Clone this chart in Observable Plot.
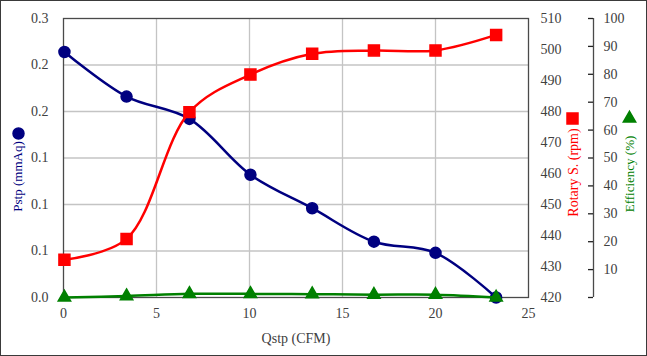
<!DOCTYPE html>
<html>
<head>
<meta charset="utf-8">
<script src="https://cdn.jsdelivr.net/npm/d3@7"></script>
<script src="https://cdn.jsdelivr.net/npm/@observablehq/plot@0.6"></script>
<style>
  html, body { margin: 0; padding: 0; background: #fff; }
  #chart { width: 645px; height: 354px; border: 1px solid #3a3a3a; }
  #chart svg { display: block; }
  #chart svg text { font-family: "Liberation Serif", "Times New Roman", serif !important; }
</style>
</head>
<body>
<div id="chart"></div>
<script>
// ---- data ----
const qstp = [0.05, 3.39, 6.77, 10.05, 13.37, 16.69, 20.0, 23.26];      // Qstp (CFM)
const pstp = [0.264, 0.216, 0.192, 0.132, 0.096, 0.060, 0.048, 0.0];     // Pstp (mmAq)
const rpm  = [432.2, 438.9, 479.8, 491.9, 498.6, 499.7, 499.7, 504.7];   // Rotary S. (rpm)
const eff  = [0.0, 0.5, 1.3, 1.3, 1.2, 1.0, 1.0, 0.0];                   // Efficiency (%)

const xTicks = [0, 5, 10, 15, 20, 25];
const gridY = [0.05, 0.1, 0.15, 0.2, 0.25];
const leftLabelTicks = [0, 0.05, 0.1, 0.15, 0.2, 0.25, 0.3];
const leftLabelTexts = ["0.0", "0.1", "0.1", "0.1", "0.2", "0.2", "0.3"];
const rpmTicks = [420, 430, 440, 450, 460, 470, 480, 490, 500, 510];
const effTicks = [0, 10, 20, 30, 40, 50, 60, 70, 80, 90, 100];
const effLabelTicks = [10, 20, 30, 40, 50, 60, 70, 80, 90, 100];

// ---- secondary axes mapped onto the primary y domain ----
const yMax = 0.3;
const rpmMin = 420, rpmMax = 510;
const effMax = 100;
const rpmToY = r => (r - rpmMin) / (rpmMax - rpmMin) * yMax;
const effToY = e => e / effMax * yMax;

const rows = qstp.map((q, i) => ({q, p: pstp[i], r: rpmToY(rpm[i]), e: effToY(eff[i])}));

const navy = "#000080", red = "#ff0000", green = "#008000";
const txt = "#404040";
const serif = "Liberation Serif";

const chart = Plot.plot({
  width: 645, height: 354,
  marginLeft: 62, marginRight: 118, marginTop: 17, marginBottom: 58,
  style: {fontFamily: serif, fontSize: "14px", color: txt, background: "#fff", overflow: "visible"},
  x: {domain: [0, 25], axis: null},
  y: {domain: [0, yMax], axis: null},
  marks: [
    // grid
    Plot.ruleX(xTicks.slice(1, -1), {stroke: "#c4c4c4", strokeWidth: 1.3}),
    Plot.ruleY(gridY, {stroke: "#c4c4c4", strokeWidth: 1.3}),
    Plot.frame({stroke: "#4a4a4a", strokeWidth: 1.3}),
    // x tick labels
    Plot.text(xTicks, {x: d => d, y: 0, dy: 16, text: d => String(d), fill: txt, fontFamily: serif, fontSize: 14, lineAnchor: "middle"}),
    Plot.text(["Qstp (CFM)"], {frameAnchor: "bottom", dy: 41, text: d => d, fill: txt, fontFamily: serif, fontSize: 14, textAnchor: "middle", lineAnchor: "middle"}),
    // left tick labels
    Plot.text(leftLabelTicks, {x: 0, y: d => d, dx: -15, textAnchor: "end", lineAnchor: "middle", text: (d, i) => leftLabelTexts[i], fill: txt, fontFamily: serif, fontSize: 14}),
    // rpm tick labels
    Plot.text(rpmTicks, {x: 25, y: d => rpmToY(d), dx: 12, textAnchor: "start", lineAnchor: "middle", text: d => String(d), fill: txt, fontFamily: serif, fontSize: 14}),
    // efficiency axis
    Plot.ruleX([25], {y1: 0, y2: yMax, dx: 65, stroke: "#4a4a4a", strokeWidth: 1.3}),
    Plot.ruleY(effTicks, {y: d => effToY(d), x1: 25, x2: 25, insetLeft: 0, insetRight: -5, dx: 60, stroke: "#222", strokeWidth: 1.3}),
    Plot.text(effLabelTicks, {x: 25, y: d => effToY(d), dx: 75, textAnchor: "start", lineAnchor: "middle", text: d => String(d), fill: txt, fontFamily: serif, fontSize: 14}),
    // axis titles with marker
    Plot.text(["Pstp (mmAq)"], {frameAnchor: "left", rotate: -90, dx: -46, dy: 18.5, textAnchor: "middle", lineAnchor: "middle", text: d => d, fill: navy, fontFamily: serif, fontSize: 13}),
    Plot.dot([0], {frameAnchor: "left", dx: -45, dy: -24.5, r: 5.5, fill: navy, stroke: navy}),
    Plot.text(["Rotary S. (rpm)"], {frameAnchor: "right", rotate: -90, dx: 45, dy: 14.5, textAnchor: "middle", lineAnchor: "middle", text: d => d, fill: red, fontFamily: serif, fontSize: 14}),
    Plot.dot([0], {frameAnchor: "right", dx: 44, dy: -39.5, r: 6.2, symbol: "square", fill: red, stroke: red}),
    Plot.text(["Efficiency (%)"], {frameAnchor: "right", rotate: -90, dx: 101, dy: 16, textAnchor: "middle", lineAnchor: "middle", text: d => d, fill: green, fontFamily: serif, fontSize: 13}),
    Plot.dot([0], {frameAnchor: "right", dx: 101, dy: -39.5, r: 4.6, symbol: "triangle", fill: green, stroke: green}),
    // series
    Plot.line(rows, {x: "q", y: "p", curve: "catmull-rom", stroke: navy, strokeWidth: 2.5}),
    Plot.dot(rows, {x: "q", y: "p", r: 5.5, fill: navy, stroke: navy}),
    Plot.line(rows, {x: "q", y: "r", curve: "catmull-rom", stroke: red, strokeWidth: 2.5}),
    Plot.dot(rows, {x: "q", y: "r", r: 6.2, symbol: "square", fill: red, stroke: red}),
    Plot.line(rows, {x: "q", y: "e", curve: "catmull-rom", stroke: green, strokeWidth: 2.5}),
    Plot.dot(rows, {x: "q", y: "e", r: 4.6, symbol: "triangle", fill: green, stroke: green})
  ]
});
document.getElementById("chart").appendChild(chart);
</script>
</body>
</html>
